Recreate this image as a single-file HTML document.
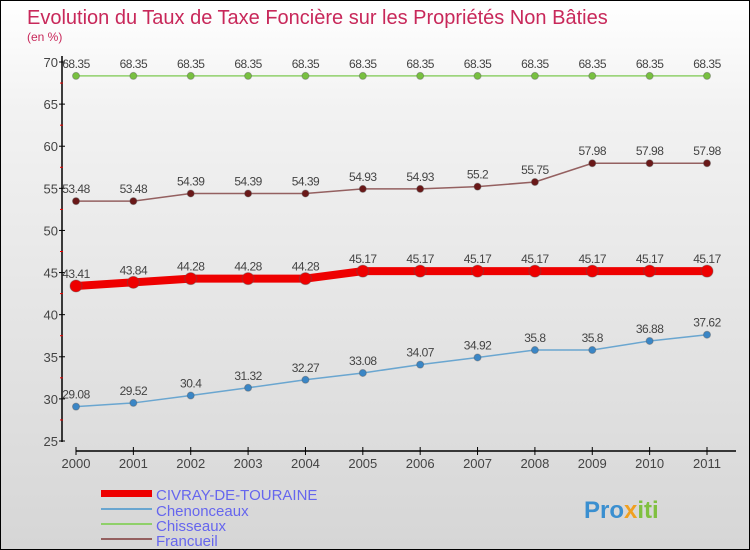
<!DOCTYPE html>
<html><head><meta charset="utf-8"><style>
body{margin:0}
#c{width:750px;height:550px;position:relative;overflow:hidden;box-sizing:border-box;border:1px solid #000;background:linear-gradient(#ffffff,#f2f2f2 20%,#d6d6d6);font-family:"Liberation Sans",sans-serif}
svg{position:absolute;left:0;top:0}
</style></head><body>
<div id="c">
<svg id="s" width="750" height="550" xmlns="http://www.w3.org/2000/svg">
<text x="26" y="23" font-size="20" fill="#c8285a">Evolution du Taux de Taxe Foncière sur les Propriétés Non Bâties</text>
<text x="26" y="40" font-size="12" fill="#c8285a">(en %)</text>
<g id="axes"></g><g id="series"></g>
<g>
<rect x="100" y="489" width="51" height="7" fill="#ee0000"/>
<text x="155" y="499" font-size="15" fill="#6666ee">CIVRAY-DE-TOURAINE</text>
<rect x="100" y="507" width="51" height="2" fill="#6aa6d0"/>
<text x="155" y="515" font-size="15" fill="#6666ee">Chenonceaux</text>
<rect x="100" y="522" width="51" height="2" fill="#8fd06a"/>
<text x="155" y="530" font-size="15" fill="#6666ee">Chisseaux</text>
<rect x="100" y="537" width="51" height="2" fill="#946060"/>
<text x="155" y="545" font-size="15" fill="#6666ee">Francueil</text>
</g>
<text x="583" y="517" font-size="24" font-weight="bold" fill="#3a8fd0">Pro<tspan fill="#f0a020">x</tspan><tspan fill="#80c040">iti</tspan></text>
</svg>
</div>
<script>
const years=[2000,2001,2002,2003,2004,2005,2006,2007,2008,2009,2010,2011];
const yTicks=[25,30,35,40,45,50,55,60,65,70];
const civray=[43.41,43.84,44.28,44.28,44.28,45.17,45.17,45.17,45.17,45.17,45.17,45.17];
const chenonceaux=[29.08,29.52,30.4,31.32,32.27,33.08,34.07,34.92,35.8,35.8,36.88,37.62];
const chisseaux=[68.35,68.35,68.35,68.35,68.35,68.35,68.35,68.35,68.35,68.35,68.35,68.35];
const francueil=[53.48,53.48,54.39,54.39,54.39,54.93,54.93,55.2,55.75,57.98,57.98,57.98];
const NS="http://www.w3.org/2000/svg";
function X(i){return 75+i*(706-75)/(years.length-1);}
function Y(v){return 440-(v-25)*(440-61)/45;}
function mk(t,a,p){const e=document.createElementNS(NS,t);for(const k in a)e.setAttribute(k,a[k]);p.appendChild(e);return e;}
const ax=document.getElementById('axes');
const ya=mk('line',{x1:61,y1:55,x2:61,y2:441,stroke:'#000','stroke-width':1.5},ax);


yTicks.forEach(v=>{
 mk('line',{x1:58,y1:Y(v),x2:64,y2:Y(v),stroke:'#000'},ax);
 if(v<70){mk('line',{x1:59,y1:Y(v+2.5),x2:62,y2:Y(v+2.5),stroke:'#e00'},ax);}
 const t=mk('text',{x:57,y:Y(v)+5,'font-size':13,'text-anchor':'end',fill:'#444'},ax);
 t.textContent=v;
 
 
});
const xa=mk('line',{x1:75,y1:450,x2:735,y2:450,stroke:'#000','stroke-width':1.5},ax);


years.forEach((y,i)=>{
 mk('line',{x1:X(i),y1:446,x2:X(i),y2:454,stroke:'#000'},ax);
 const t=mk('text',{x:X(i),y:467,'font-size':13,'text-anchor':'middle',fill:'#444'},ax);
 t.textContent=y;
 
 
});
const sg=document.getElementById('series');
function draw(vals,name,color,w,r,dot){
 const g=mk('g',{},sg);
 
 
 const pl=mk('polyline',{points:vals.map((v,i)=>X(i)+','+Y(v)).join(' '),fill:'none',stroke:color,'stroke-width':w,'stroke-linejoin':'round'},g);
 
 
 vals.forEach((v,i)=>{
  const c=mk('circle',{cx:X(i),cy:Y(v),r:r,fill:dot,stroke:'#555','stroke-opacity':0.4},g);
  
  
  const t=mk('text',{x:X(i),y:Y(v)-8,'font-size':12,'text-anchor':'middle',fill:'#444','letter-spacing':'-0.5'},g);
  t.textContent=v;
  
  
 });
}
draw(chenonceaux,'chenonceaux','#6aa6d0',1.5,3.5,'#3a86c6');
draw(chisseaux,'chisseaux','#8fd06a',1.5,3.5,'#78c040');
draw(francueil,'francueil','#946060',1.5,3.5,'#6a1818');
draw(civray,'civray','#ee0000',8,6,'#ee0000');
</script>
</body></html>
